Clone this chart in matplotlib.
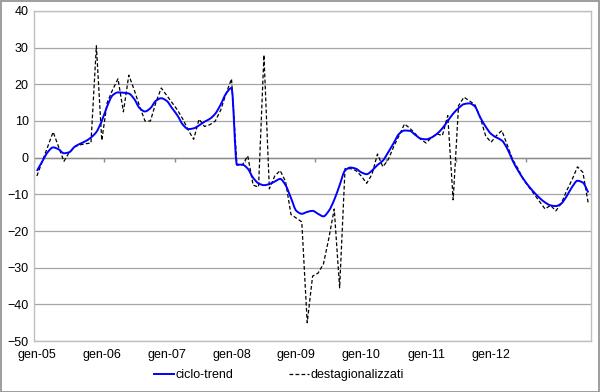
import numpy as np
import matplotlib.pyplot as plt
from matplotlib.patches import Rectangle, PathPatch
from matplotlib.path import Path
from matplotlib.lines import Line2D

plt.rcParams['font.family'] = ['Liberation Sans', 'DejaVu Sans']

# monthly series, gen-05 onwards
trend = [-3.6, -1, 1.5, 2.8, 2.3, 1.2, 1.5, 3, 3.8, 4.5,
         5.5, 7, 10, 14, 17, 17.8, 17.7, 17.5, 16, 13.5,
         12.6, 13.5, 15.5, 16.2, 15.5, 13.5, 11.5, 9, 7.8, 8,
         8.8, 9.8, 10.6, 12, 14.5, 17.5, 19, -1.9, -1.9, -3,
         -5.5, -7, -7.5, -7.2, -6.5, -5.8, -7.5, -11, -14.5, -15.3,
         -14.8, -14.5, -15.3, -16, -14.5, -11.5, -7.5, -3.5, -2.7, -3,
         -4, -4.5, -3.5, -2, -0.8, 1.5, 4, 6.5, 7.4, 7.3,
         6.2, 5.2, 5, 5.5, 6.5, 8, 10, 12, 13.5, 14.6,
         14.8, 14, 11, 8.5, 6.5, 5.5, 4.7, 2.5, -0.8, -3.5,
         -5.8, -7.8, -9.5, -11, -12.2, -13, -13.2, -12.5, -10.5, -8,
         -6.3, -6.8, -9.5]
destag = [-5, -1, 3, 7, 3, -1, 1.5, 3, 3.5, 3.8,
          4, 30.5, 4.7, 15, 18.5, 21.5, 12.5, 22.5, 18.5, 14,
          10, 10, 15, 19, 17, 15, 13, 10.5, 7.5, 5,
          10.5, 8.5, 9, 10, 13, 17.5, 21.5, -2, -2, 0.5,
          -7.5, -8, 28, -8.5, -5, -3.5, -6.5, -15.5, -16.5, -17.5,
          -45, -32.3, -31.5, -29, -22, -14, -35.5, -3, -3, -3.5,
          -5, -7, -4.5, 1, -2.5, -0.5, 3, 6, 9.2, 8,
          6.5, 5, 4, 5.5, 6.5, 6, 11.5, -11.5, 14.2, 16.5,
          15.5, 14.5, 11, 6, 4.2, 6, 7.4, 3.5, -0.5, -3,
          -6, -8, -10, -12, -14, -13, -14.5, -12.5, -9, -6,
          -2.5, -4, -12.5]
tick_labels = ['gen-05', 'gen-06', 'gen-07', 'gen-08', 'gen-09', 'gen-10', 'gen-11', 'gen-12']


def smooth_path(x, y):
    # smoothed line through every point, tangents limited so it does not overshoot
    x = np.asarray(x, float)
    y = np.asarray(y, float)
    d = np.diff(y) / np.diff(x)
    m = np.zeros_like(y)
    m[0], m[-1] = d[0], d[-1]
    for i in range(1, len(y) - 1):
        if d[i - 1] * d[i] > 0:
            m[i] = 2 / (1 / d[i - 1] + 1 / d[i])
    verts = [(x[0], y[0])]
    codes = [Path.MOVETO]
    for i in range(len(x) - 1):
        h = x[i + 1] - x[i]
        verts += [(x[i] + h / 3, y[i] + m[i] * h / 3),
                  (x[i + 1] - h / 3, y[i + 1] - m[i + 1] * h / 3),
                  (x[i + 1], y[i + 1])]
        codes += [Path.CURVE4] * 3
    return Path(verts, codes)


def main():
    fig = plt.figure(figsize=(6, 3.92), dpi=100)
    ax = fig.add_axes([0.057, 0.13, 0.928, 0.842])
    n = len(trend)
    x = np.arange(n)

    ax.set_ylim(-50, 40)
    ax.set_yticks(np.arange(-50, 41, 10))
    ax.set_xlim(-0.5, n - 0.5)
    for y in np.arange(-50, 41, 10):
        ax.axhline(y, color='#a6a6a6', lw=0.9, zorder=1)
    ax.axhline(0, color='#8c8c8c', lw=1.0, zorder=1)
    ax.vlines(np.arange(-0.5, n, 13), -1.3, 0, color='#8c8c8c', lw=1.0, zorder=1)

    ax.add_patch(PathPatch(smooth_path(x, trend), fill=False, edgecolor='#0000ff', lw=1.4, zorder=3))
    ax.plot(x, destag, color='black', lw=0.9, ls=(0, (3, 1.8)), zorder=2)

    ax.set_xticks(np.arange(0, 12 * len(tick_labels), 12))
    ax.set_xticklabels(tick_labels)
    ax.tick_params(axis='both', length=0, labelsize=9, colors='black')
    ax.tick_params(axis='x', pad=6)
    ax.tick_params(axis='y', pad=4)
    for s in ax.spines.values():
        s.set_color('#bfbfbf')
        s.set_linewidth(1.0)

    handles = [Line2D([], [], color='#0000ff', lw=1.4),
               Line2D([], [], color='black', lw=0.9, ls=(0, (3, 1.8)))]
    fig.legend(handles, ['ciclo-trend', 'destagionalizzati'], loc='center',
               bbox_to_anchor=(0.465, 0.043), ncol=2, frameon=False,
               fontsize=9, handlelength=1.6, handletextpad=0.1, columnspacing=4.5)
    fig.patches.append(Rectangle((0.001, 0.001), 0.997, 0.996, transform=fig.transFigure,
                                 fill=False, edgecolor='#8c8c8c', lw=1.2))
    fig.savefig('out.png', dpi=100)


if __name__ == '__main__':
    main()
